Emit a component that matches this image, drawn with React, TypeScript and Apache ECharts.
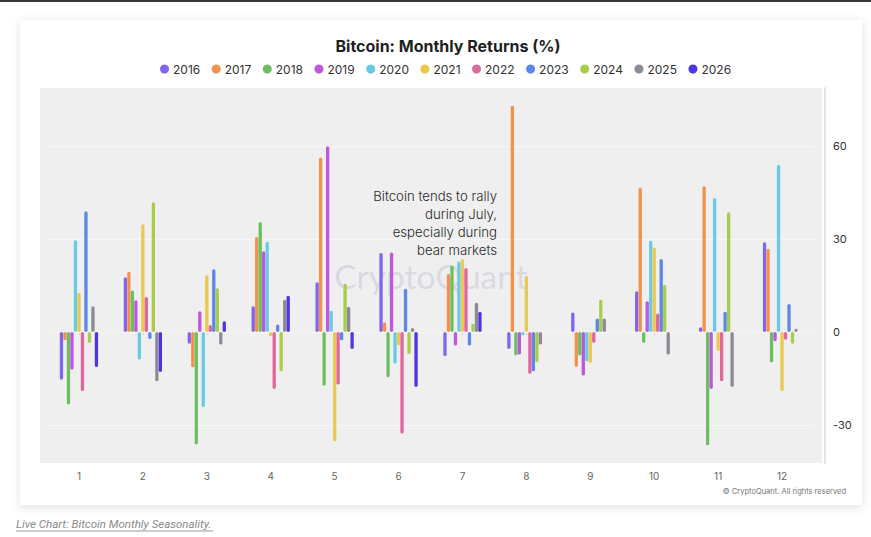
import React, { useEffect, useRef } from "react";
import * as echarts from "echarts";

const months = ["1", "2", "3", "4", "5", "6", "7", "8", "9", "10", "11", "12"];
const years = ["2016", "2017", "2018", "2019", "2020", "2021", "2022", "2023", "2024", "2025", "2026"];
const colors = ["#7f66ee", "#f0914f", "#6cbf5f", "#bd56e0", "#6cc9e6", "#ecc84c", "#e0679b", "#5b86ea", "#a9cc4b", "#8b8b96", "#4b36e2"];
const yTicks = [-30, 0, 30, 60];

const y2016 = [-15.4, 17.6, -3.8, 8.3, 16.0, 25.5, -7.8, -5.5, 6.3, 13.1, 1.5, 28.9];
const y2017 = [-2.7, 19.4, -11.4, 30.6, 56.3, 3.1, 18.7, 73.0, -11.3, 46.5, 47.0, 26.8];
const y2018 = [-23.4, 13.4, -36.3, 35.4, -17.3, -14.6, 21.4, -7.6, -7.6, -3.5, -36.6, -9.8];
const y2019 = [-12.2, 10.2, 6.7, 26.0, 59.9, 25.6, -4.4, -7.3, -14.1, 9.9, -18.4, -3.0];
const y2020 = [29.6, -8.9, -24.3, 29.1, 6.8, -10.2, 22.7, -1.1, -9.5, 29.4, 43.2, 53.9];
const y2021 = [12.6, 34.7, 18.3, -1.4, -35.3, -4.3, 23.5, 18.0, -10.0, 27.2, -6.2, -19.1];
const y2022 = [-19.1, 11.3, 2.2, -18.4, -17.0, -32.8, 20.6, -13.5, -3.5, 5.9, -15.9, -2.5];
const y2023 = [38.9, -2.3, 20.2, 2.4, -2.7, 13.9, -4.4, -12.7, 4.3, 23.5, 6.5, 9.0];
const y2024 = [-3.5, 41.8, 14.1, -12.7, 15.5, -7.1, 2.6, -9.7, 10.4, 15.2, 38.6, -3.8];
const y2025 = [8.3, -15.9, -4.1, 10.4, 8.1, 1.3, 9.4, -4.1, 4.3, -7.3, -17.7, 1.0];
const y2026 = [-11.3, -12.9, 3.4, 11.7, -5.5, -17.7, 6.5, null, null, null, null, null];

const seriesValues = [y2016, y2017, y2018, y2019, y2020, y2021, y2022, y2023, y2024, y2025, y2026];

const titleText = "Bitcoin: Monthly Returns (%)";
const noteText = "Bitcoin tends to rally\nduring July,\nespecially during\nbear markets";
const watermark = "CryptoQuant";
const copyright = "© CryptoQuant. All rights reserved";
const linkText = "Live Chart: Bitcoin Monthly Seasonality.";

export default function App() {
  const ref = useRef<HTMLDivElement>(null);
  useEffect(() => {
    if (!ref.current) return;
    const chart = echarts.init(ref.current, null, { renderer: "svg" });
    const font = "Inter, 'Noto Sans', sans-serif";
    chart.setOption({
      animation: false,
      textStyle: { fontFamily: font },
      title: {
        text: titleText,
        top: 33,
        left: 443,
        textAlign: "center",
        textStyle: { fontSize: 16, fontWeight: "bold", color: "#1f1f1f", fontFamily: font },
      },
      legend: {
        data: years,
        top: 58,
        left: 155,
        icon: "circle",
        itemWidth: 9,
        itemHeight: 9,
        itemGap: 11.5,
        textStyle: { fontSize: 12, color: "#333", fontFamily: font, padding: [0, 0, 0, -1] },
      },
      grid: { left: 47, right: 57, top: 88, bottom: 74, containLabel: false },
      xAxis: {
        type: "category",
        data: months,
        axisLine: { show: true, lineStyle: { color: "#e2e2e2" } },
        axisTick: { show: true, alignWithLabel: true, length: 3, lineStyle: { color: "#cfcfcf" } },
        axisLabel: { color: "#666", fontSize: 10, margin: 8 },
        splitLine: { show: false },
      },
      yAxis: {
        type: "value",
        position: "right",
        min: -42.3,
        max: 78.7,
        offset: 11,
        axisLine: { show: true, lineStyle: { color: "#e4e4e4", width: 2 } },
        axisTick: { show: false, customValues: yTicks },
        axisLabel: { color: "#333", fontSize: 11, margin: 8, customValues: yTicks },
        splitLine: { show: false },
      },
      graphic: [
        { type: "rect", z: -20, shape: { x: 0, y: 0, width: 871, height: 2 }, style: { fill: "#3a3a3a" } },
        {
          type: "rect",
          z: -19,
          shape: { x: 20, y: 20, width: 842, height: 485 },
          style: { fill: "#ffffff", shadowBlur: 10, shadowColor: "rgba(0,0,0,0.13)", shadowOffsetY: 2 },
        },
        { type: "rect", z: -18, shape: { x: 40, y: 88, width: 782, height: 375 }, style: { fill: "#efefef" } },
        {
          type: "text",
          z: -17,
          x: 431,
          y: 276,
          style: {
            text: watermark,
            font: "33.5px Lato, Inter, sans-serif",
            fill: "rgba(190,190,210,0.45)",
            textAlign: "center",
            textVerticalAlign: "middle",
            lineHeight: 18,
          },
        },
        {
          type: "text",
          z: 10,
          x: 497,
          y: 187,
          style: {
            text: noteText,
            font: "300 13.2px Inter, sans-serif",
            fill: "#2a2a2a",
            textAlign: "right",
            textVerticalAlign: "top",
            lineHeight: 17.9,
          },
        },
        {
          type: "text",
          z: 10,
          x: 846,
          y: 491,
          style: { text: copyright, font: "7.5px Inter, sans-serif", fill: "#777", textAlign: "right", textVerticalAlign: "middle" },
        },
        {
          type: "text",
          z: 10,
          x: 16,
          y: 524,
          style: { text: linkText, font: "italic 11.5px Roboto, sans-serif", fill: "#8a8a8a", textAlign: "left", textVerticalAlign: "middle" },
        },
        { type: "line", z: 10, shape: { x1: 16, y1: 531, x2: 213, y2: 531 }, style: { stroke: "#9a9a9a", lineWidth: 1 } },
      ],
      series: years.map((y, i) => ({
        name: y,
        type: "bar",
        data: seriesValues[i],
        barWidth: 3.3,
        barGap: "6%",
        itemStyle: { color: colors[i], borderRadius: 1.6 },
        emphasis: { disabled: true },
        markLine:
          i === 0
            ? {
                silent: true,
                symbol: "none",
                z: 1,
                label: { show: false },
                lineStyle: { color: "#f7f7f7", width: 1, type: "solid" },
                emphasis: { disabled: true },
                data: yTicks.map((v) => ({ yAxis: v })),
              }
            : undefined,
      })),
    });
    return () => chart.dispose();
  }, []);
  return <div ref={ref} style={{ position: "absolute", left: 0, top: 0, width: 871, height: 537 }} />;
}
